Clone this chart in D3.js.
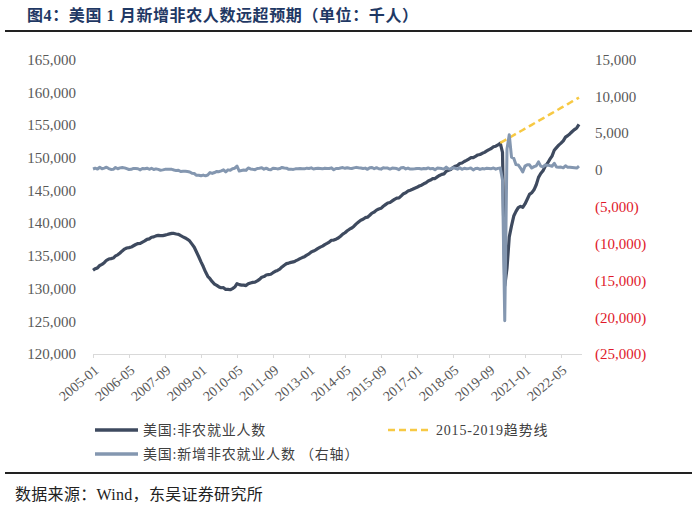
<!DOCTYPE html>
<html>
<head>
<meta charset="utf-8">
<script src="https://cdn.jsdelivr.net/npm/d3@7"></script>
<style>
  body { margin: 0; background: #fff; }
  svg { display: block; }
</style>
</head>
<body>
<div id="chart"></div>
<script>
var width = 700,
  height = 510;

// monthly, 2005-01 .. 2023-01
var startMonth = "2005-01";

// 美国:非农就业人数 (千人)
var payrolls = [
  132800, 133040, 133160, 133530, 133700, 133950, 134320, 134510, 134580, 134660, 134990, 135150,
  135430, 135750, 136030, 136200, 136260, 136340, 136540, 136730, 136880, 136900, 137100, 137280,
  137520, 137600, 137840, 137900, 138050, 138120, 138080, 138090, 138170, 138250, 138350, 138430,
  138420, 138340, 138290, 138080, 137900, 137730, 137520, 137250, 136790, 136310, 135580, 134860,
  134070, 133360, 132560, 131870, 131510, 131050, 130690, 130490, 130250, 130120, 130130, 129860,
  129870, 129820, 129990, 130230, 130750, 130600, 130520, 130520, 130450, 130730, 130850, 130940,
  130980, 131170, 131410, 131730, 131830, 132070, 132140, 132190, 132420, 132630, 132770, 132960,
  133300, 133570, 133810, 133890, 134000, 134070, 134220, 134390, 134570, 134730, 134870, 135110,
  135300, 135590, 135720, 135920, 136140, 136330, 136480, 136710, 136900, 137100, 137380, 137410,
  137550, 137730, 138000, 138310, 138530, 138830, 139070, 139250, 139530, 139880, 140180, 140440,
  140580, 140830, 140910, 141200, 141530, 141690, 141990, 142160, 142260, 142570, 142820, 143080,
  143150, 143390, 143630, 143820, 143860, 144170, 144500, 144640, 144900, 145030, 145170, 145330,
  145470, 145670, 145800, 146010, 146160, 146430, 146580, 146790, 146810, 147060, 147280, 147450,
  147530, 147920, 148060, 148200, 148480, 148700, 148800, 149100, 149190, 149420, 149590, 149790,
  150000, 150000, 150200, 150410, 150480, 150670, 150810, 151030, 151230, 151390, 151660, 151750,
  151950, 152220, 150820, 130420, 133100, 137880, 139580, 141080, 141790, 142370, 142560, 142410,
  142930, 143640, 144390, 144650, 145090, 145860, 146990, 147580, 148000, 148670, 149140, 149730,
  150240, 151140, 151540, 151910, 152220, 152560, 153130, 153370, 153660, 154000, 154290, 154540,
  155070
];

// 美国:新增非农就业人数 (千人, 右轴)
var payrollChange = [
  130, 240, 120, 360, 170, 250, 370, 190, 70, 80, 330, 160,
  280, 320, 280, 170, 60, 80, 200, 180, 160, 10, 210, 170,
  240, 90, 230, 60, 150, 70, -40, 10, 80, 80, 100, 80,
  -10, -90, -50, -210, -180, -170, -210, -270, -460, -480, -730, -720,
  -790, -700, -800, -690, -360, -470, -350, -210, -240, -130, 10, -270,
  10, -50, 170, 240, 520, -150, -80, -10, -60, 270, 130, 80,
  40, 200, 240, 310, 100, 240, 70, 40, 240, 210, 140, 190,
  340, 270, 240, 80, 110, 70, 150, 170, 180, 150, 150, 240,
  200, 280, 130, 190, 230, 190, 150, 230, 190, 200, 280, 30,
  190, 180, 270, 320, 220, 300, 230, 190, 280, 350, 290, 260,
  190, 250, 80, 290, 330, 160, 300, 160, 110, 310, 250, 260,
  120, 250, 240, 190, 40, 310, 330, 140, 260, 120, 140, 160,
  200, 200, 130, 200, 160, 270, 150, 210, 20, 250, 220, 180,
  120, 390, 150, 140, 290, 220, 100, 300, 90, 230, 170, 210,
  260, 0, 190, 220, 70, 190, 140, 220, 200, 170, 260, 100,
  210, 260, -1370, -20490, 2830, 4780, 1730, 1580, 720, 680, 260, -270,
  520, 710, 700, 260, 450, 560, 1090, 520, 420, 680, 650, 590,
  500, 900, 400, 370, 390, 290, 570, 350, 350, 320, 290, 260,
  520
];

// 2015-2019趋势线, from 2020-02
var trendStart = "2020-02";
var trendValues = [
  152250, 152450, 152650, 152840, 153040, 153240, 153440, 153640, 153830, 154030, 154230, 154430,
  154630, 154820, 155020, 155220, 155420, 155620, 155810, 156010, 156210, 156410, 156610, 156800,
  157000, 157200, 157400, 157600, 157790, 157990, 158190, 158390, 158590, 158780, 158980, 159180
];

var xTicks = ["2005-01", "2006-05", "2007-09", "2009-01", "2010-05", "2011-09", "2013-01",
  "2014-05", "2015-09", "2017-01", "2018-05", "2019-09", "2021-01", "2022-05"];
var leftTicks = [120000, 125000, 130000, 135000, 140000, 145000, 150000, 155000, 160000, 165000];
var rightTicks = [-25000, -20000, -15000, -10000, -5000, 0, 5000, 10000, 15000];

var fmtMonth = d3.timeFormat("%Y-%m");
var parseMonth = d3.timeParse("%Y-%m");
var months = d3.timeMonth.range(parseMonth(startMonth), d3.timeMonth.offset(parseMonth(startMonth), payrolls.length)).map(fmtMonth);
var trendMonths = months.slice(months.indexOf(trendStart));

var darkCol = "#3e4a5f",
  lightCol = "#8497b0",
  trendCol = "#f7c944",
  serif = "'Liberation Serif', 'Noto Sans CJK SC', serif";

var svg = d3.select("#chart").append("svg")
  .attr("width", width)
  .attr("height", height);

// title
svg.append("text")
  .attr("x", 27)
  .attr("y", 21)
  .attr("fill", "#1f3864")
  .attr("font-family", serif)
  .attr("font-weight", "bold")
  .attr("font-size", 16)
  .attr("letter-spacing", 0.6)
  .text("图4：美国 1 月新增非农人数远超预期（单位：千人）");

svg.append("line")
  .attr("x1", 5).attr("x2", 692)
  .attr("y1", 31).attr("y2", 31)
  .attr("stroke", "#222").attr("stroke-width", 2);

let x = d3.scalePoint()
  .domain(months)
  .range([93, 579]);

let yL = d3.scaleLinear()
  .domain([120000, 165000])
  .range([354, 59.5]);

let yR = d3.scaleLinear()
  .domain([-25000, 15000])
  .range([354, 59.5]);

// left axis
var gL = svg.append("g")
  .attr("transform", "translate(93,0)")
  .call(d3.axisLeft(yL).tickValues(leftTicks).tickSize(0).tickPadding(17).tickFormat(d3.format(",")));
gL.select(".domain").remove();
gL.selectAll("text")
  .attr("font-family", serif)
  .attr("font-size", 15)
  .attr("fill", "#595959");

// right axis
var gR = svg.append("g")
  .attr("transform", "translate(582,0)")
  .call(d3.axisRight(yR).tickValues(rightTicks).tickSize(0).tickPadding(13)
    .tickFormat(function (d) { return d < 0 ? "(" + d3.format(",")(-d) + ")" : d3.format(",")(d); }));
gR.select(".domain").remove();
gR.selectAll("text")
  .attr("font-family", serif)
  .attr("font-size", 15)
  .attr("fill", function (d) { return d < 0 ? "#e0192a" : "#595959"; });

// x axis
var gX = svg.append("g")
  .attr("transform", "translate(0," + yL(120000) + ")")
  .call(d3.axisBottom(x).tickValues(xTicks).tickSize(4).tickSizeOuter(0));
gX.select(".domain").attr("stroke", "#d9d9d9").attr("d", "M93,0.5H582");
gX.selectAll(".tick line").attr("stroke", "#d9d9d9");
gX.selectAll("text")
  .attr("font-family", serif)
  .attr("font-size", 14)
  .attr("fill", "#595959")
  .attr("text-anchor", "end")
  .attr("x", 0)
  .attr("y", 0)
  .attr("dy", "0.35em")
  .attr("transform", "translate(3,14) rotate(-40)");

// lines
var lineL = d3.line()
  .x(function (d, i) { return x(months[i]); })
  .y(function (d) { return yL(d); });

var lineT = d3.line()
  .x(function (d, i) { return x(trendMonths[i]); })
  .y(function (d) { return yL(d); });

var lineR = d3.line()
  .x(function (d, i) { return x(months[i]); })
  .y(function (d) { return yR(d); });

svg.append("path")
  .attr("d", lineL(payrolls))
  .attr("fill", "none")
  .attr("stroke", darkCol)
  .attr("stroke-width", 3.2)
  .attr("stroke-linejoin", "round");

svg.append("path")
  .attr("d", lineT(trendValues))
  .attr("fill", "none")
  .attr("stroke", trendCol)
  .attr("stroke-width", 2.5)
  .attr("stroke-dasharray", "7,4");

svg.append("path")
  .attr("d", lineR(payrollChange))
  .attr("fill", "none")
  .attr("stroke", lightCol)
  .attr("stroke-width", 3)
  .attr("stroke-linejoin", "round");

// legend
var legend = [
  { label: "美国:非农就业人数", color: darkCol, dash: null, lx: 95, ly: 430 },
  { label: "2015-2019趋势线", color: trendCol, dash: "7,4", lx: 388, ly: 430 },
  { label: "美国:新增非农就业人数 （右轴）", color: lightCol, dash: null, lx: 95, ly: 454 }
];

var lg = svg.selectAll(".lg")
  .data(legend)
  .enter()
  .append("g")
  .attr("transform", function (d) { return "translate(" + d.lx + "," + d.ly + ")"; });

lg.append("line")
  .attr("x1", 0).attr("x2", 43)
  .attr("y1", 0).attr("y2", 0)
  .attr("stroke", function (d) { return d.color; })
  .attr("stroke-width", function (d) { return d.dash ? 2.5 : 3.5; })
  .attr("stroke-dasharray", function (d) { return d.dash; });

lg.append("text")
  .attr("x", 48)
  .attr("y", 0)
  .attr("dy", "0.35em")
  .attr("font-family", serif)
  .attr("font-size", 14)
  .attr("letter-spacing", 0.8)
  .attr("fill", "#404040")
  .text(function (d) { return d.label; });

svg.append("line")
  .attr("x1", 5).attr("x2", 692)
  .attr("y1", 473).attr("y2", 473)
  .attr("stroke", "#222").attr("stroke-width", 2);

svg.append("text")
  .attr("x", 15)
  .attr("y", 494)
  .attr("dy", "0.35em")
  .attr("font-family", serif)
  .attr("font-size", 16)
  .attr("letter-spacing", 0.3)
  .attr("fill", "#222")
  .text("数据来源：Wind，东吴证券研究所");
</script>
</body>
</html>
